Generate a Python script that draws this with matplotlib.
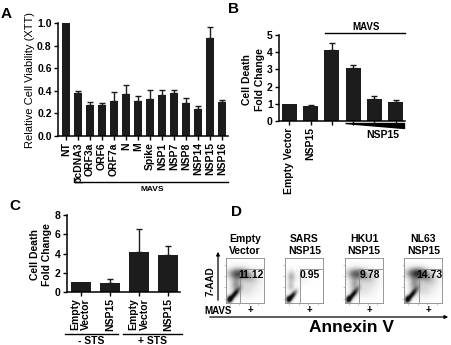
import numpy as np
import matplotlib
matplotlib.use("Agg")
import matplotlib.pyplot as plt
from matplotlib.lines import Line2D
from matplotlib.patches import Polygon, Rectangle, FancyArrowPatch

plt.rcParams["font.family"] = ["Liberation Sans", "DejaVu Sans"]

W, H = 452, 345
BAR = "#1c1c1c"

# panel A: XTT viability
a_labels = ["NT", "pcDNA3", "ORF3a", "ORF6", "ORF7a", "N", "M", "Spike",
            "NSP1", "NSP7", "NSP8", "NSP14", "NSP15", "NSP16"]
a_values = [1.0, 0.38, 0.27, 0.27, 0.31, 0.37, 0.31, 0.33, 0.36, 0.38, 0.29, 0.235, 0.87, 0.30]
a_errors = [0.0, 0.015, 0.035, 0.02, 0.08, 0.08, 0.045, 0.075, 0.05, 0.03, 0.05, 0.03, 0.095, 0.02]
a_yticks = [0.0, 0.2, 0.4, 0.6, 0.8, 1.0]

# panel B: cell death fold change, NSP15 titration
b_labels = ["Empty Vector", "NSP15", "", "", "", ""]
b_values = [1.0, 0.87, 4.1, 3.06, 1.3, 1.12]
b_errors = [0.0, 0.07, 0.45, 0.2, 0.13, 0.1]
b_yticks = [0, 1, 2, 3, 4, 5]

# panel C: cell death fold change +/- STS
c_labels = ["Empty\nVector", "NSP15", "Empty\nVector", "NSP15"]
c_groups = ["- STS", "+ STS"]
c_values = [1.0, 0.9, 4.2, 3.8]
c_errors = [0.0, 0.42, 2.3, 1.0]
c_yticks = [0, 2, 4, 6, 8]

# panel D: flow plots (7-AAD vs Annexin V)
d_titles = ["Empty\nVector", "SARS\nNSP15", "HKU1\nNSP15", "NL63\nNSP15"]
d_percent = ["11.12", "0.95", "9.78", "14.73"]
# clouds: (cx, cy, sx, sy, angle, weight)
d_clouds = [
    [(0.20, 0.17, 0.13, 0.04, 45, 1.0), (0.09, 0.08, 0.05, 0.05, 0, 0.9),
     (0.30, 0.64, 0.17, 0.08, 0, 0.6), (0.58, 0.57, 0.18, 0.1, -15, 0.28),
     (0.25, 0.40, 0.09, 0.13, 0, 0.35), (0.50, 0.30, 0.2, 0.12, 0, 0.12)],
    [(0.19, 0.15, 0.10, 0.04, 45, 1.0), (0.09, 0.08, 0.05, 0.05, 0, 0.9),
     (0.16, 0.57, 0.07, 0.09, 0, 0.3), (0.15, 0.36, 0.06, 0.07, 0, 0.22),
     (0.45, 0.55, 0.12, 0.08, 0, 0.05)],
    [(0.20, 0.17, 0.13, 0.04, 45, 1.0), (0.09, 0.08, 0.05, 0.05, 0, 0.9),
     (0.30, 0.64, 0.17, 0.08, 0, 0.55), (0.58, 0.56, 0.18, 0.1, -15, 0.22),
     (0.25, 0.40, 0.09, 0.13, 0, 0.3), (0.50, 0.30, 0.2, 0.12, 0, 0.1)],
    [(0.20, 0.17, 0.13, 0.04, 45, 1.0), (0.09, 0.08, 0.05, 0.05, 0, 0.9),
     (0.33, 0.65, 0.18, 0.08, 0, 0.7), (0.60, 0.56, 0.18, 0.1, -15, 0.32),
     (0.27, 0.42, 0.09, 0.13, 0, 0.35), (0.50, 0.30, 0.2, 0.12, 0, 0.14)],
]


def px_box(left, top, right, bottom):
    return [left / W, 1 - bottom / H, (right - left) / W, (bottom - top) / H]


def fig_line(fig, xs, ys, lw=1.0, color="k"):
    fig.add_artist(Line2D([x / W for x in xs], [1 - y / H for y in ys], color=color, lw=lw))


def fig_text(fig, x, y, s, **kw):
    fig.text(x / W, 1 - y / H, s, **kw)


def bar_panel(ax, values, errors, width, yticks, fmt):
    x = np.arange(len(values))
    v = np.array(values)
    e = np.array(errors)
    ax.bar(x, v, width=width, color=BAR, zorder=2)
    m = e > 0
    ax.errorbar(x[m], v[m], yerr=[np.zeros(m.sum()), e[m]], fmt="none", ecolor=BAR,
                elinewidth=1.0, capsize=2.2, capthick=1.0, zorder=3)
    ax.set_ylim(yticks[0], yticks[-1])
    ax.set_yticks(yticks)
    ax.set_yticklabels([fmt.format(t) for t in yticks], fontsize=7.5, fontweight="bold")
    ax.set_xticks(x)
    for s in ["top", "right"]:
        ax.spines[s].set_visible(False)
    for s in ["left", "bottom"]:
        ax.spines[s].set_linewidth(1.1)
    ax.tick_params(length=3, width=1.0, pad=1.5)
    return x


fig = plt.figure(figsize=(W / 100, H / 100), dpi=100)

# ---- A ----
axA = fig.add_axes(px_box(58, 23, 228, 136))
bar_panel(axA, a_values, a_errors, 0.67, a_yticks, "{:.1f}")
axA.set_xlim(-0.67, 13.5)
axA.set_xticklabels(a_labels, rotation=90, fontsize=7.5, fontweight="bold")
fig_text(fig, 30, 80, "Relative Cell Viability (XTT)", rotation=90, ha="center", va="center", fontsize=8)
fig_line(fig, [74, 74, 228], [178, 182, 182])
fig_text(fig, 152, 189.5, "MAVS", ha="center", va="center", fontsize=6, fontweight="bold")
fig_text(fig, 6, 14, "A", ha="center", va="center", fontsize=11, fontweight="bold")

# ---- B ----
axB = fig.add_axes(px_box(279, 35, 405, 121))
bar_panel(axB, b_values, b_errors, 0.7, b_yticks, "{:d}")
axB.set_xlim(-0.48, 5.44)
axB.set_xticklabels(b_labels, rotation=90, fontsize=7.5, fontweight="bold")
fig_text(fig, 253.5, 80, "Cell Death\nFold Change", rotation=90, ha="center", va="center",
         fontsize=7.5, fontweight="bold", linespacing=1.3)
fig_line(fig, [325, 405], [33, 33])
fig_text(fig, 366, 27, "MAVS", ha="center", va="center", fontsize=7, fontweight="bold")
fig.add_artist(Polygon([(345 / W, 1 - 122.5 / H), (404 / W, 1 - 122.5 / H), (404 / W, 1 - 127.5 / H)],
                       closed=True, color="k", transform=fig.transFigure))
fig_text(fig, 383, 135, "NSP15", ha="center", va="center", fontsize=7.5, fontweight="bold")
fig_text(fig, 234, 9, "B", ha="center", va="center", fontsize=11, fontweight="bold")

# ---- C ----
axC = fig.add_axes(px_box(67, 215, 180, 292))
bar_panel(axC, c_values, c_errors, 0.69, c_yticks, "{:d}")
axC.set_xlim(-0.48, 3.41)
axC.set_xticklabels(c_labels, rotation=90, fontsize=7.5, fontweight="bold",
                    multialignment="right", linespacing=1.1)
fig_text(fig, 41, 255, "Cell Death\nFold Change", rotation=90, ha="center", va="center",
         fontsize=7.5, fontweight="bold", linespacing=1.2)
for (x0, x1), g in zip([(65, 118), (123, 182)], c_groups):
    fig_line(fig, [x0, x1], [334, 334])
    fig_text(fig, (x0 + x1) / 2, 340.5, g, ha="center", va="center", fontsize=7.5, fontweight="bold")
fig_text(fig, 15, 206, "C", ha="center", va="center", fontsize=11, fontweight="bold")

# ---- D ----
gx, gy = np.meshgrid(np.linspace(0, 1, 80), np.linspace(0, 1, 80))
for i, (title, pct, clouds) in enumerate(zip(d_titles, d_percent, d_clouds)):
    left = 226 + 59.5 * i
    ax = fig.add_axes(px_box(left, 258, left + 38, 303))
    dens = np.zeros_like(gx)
    for cx, cy, sx, sy, ang, w in clouds:
        t = np.deg2rad(ang)
        u = (gx - cx) * np.cos(t) + (gy - cy) * np.sin(t)
        v = -(gx - cx) * np.sin(t) + (gy - cy) * np.cos(t)
        dens += w * np.exp(-0.5 * ((u / sx) ** 2 + (v / sy) ** 2))
    ax.imshow(np.clip(dens, 0, 1) ** 0.7, extent=(0, 1, 0, 1), origin="lower", cmap="Greys",
              vmin=0, vmax=1.05, aspect="auto", interpolation="bilinear")
    ax.add_patch(Rectangle((0.37, 0), 0.63, 0.75, fill=False, ec="#888888", lw=0.6))
    ax.text(0.65, 0.62, pct, transform=ax.transAxes, ha="center", va="center",
            fontsize=7.5, fontweight="bold")
    ax.set_xlim(0, 1)
    ax.set_ylim(0, 1)
    ax.set_xticks([0.1, 0.35, 0.6, 0.85])
    ax.set_yticks([0.1, 0.35, 0.6, 0.85])
    ax.tick_params(length=1.5, width=0.4, color="#999999", labelleft=False, labelbottom=False)
    for s in ax.spines.values():
        s.set_linewidth(0.6)
        s.set_color("#888888")
    fig_text(fig, left + 19, 245, title, ha="center", va="center", fontsize=7.5,
             fontweight="bold", linespacing=1.3)
    fig_text(fig, left + 24, 310, "+", ha="center", va="center", fontsize=7, fontweight="bold")

fig.add_artist(FancyArrowPatch((218 / W, 1 - 303 / H), (218 / W, 1 - 249 / H), transform=fig.transFigure,
                               arrowstyle="-|>", mutation_scale=5, lw=0.9, color="k"))
fig.add_artist(FancyArrowPatch((207 / W, 1 - 317 / H), (451 / W, 1 - 317 / H), transform=fig.transFigure,
                               arrowstyle="-|>", mutation_scale=5, lw=0.9, color="k"))
fig_text(fig, 211, 281, "7-AAD", rotation=90, ha="center", va="center", fontsize=7, fontweight="bold")
fig_text(fig, 218, 311, "MAVS", ha="center", va="center", fontsize=7, fontweight="bold")
fig_text(fig, 352, 328, "Annexin V", ha="center", va="center", fontsize=12.5, fontweight="bold")
fig_text(fig, 236, 212, "D", ha="center", va="center", fontsize=11, fontweight="bold")

fig.savefig("out.png", dpi=100)
